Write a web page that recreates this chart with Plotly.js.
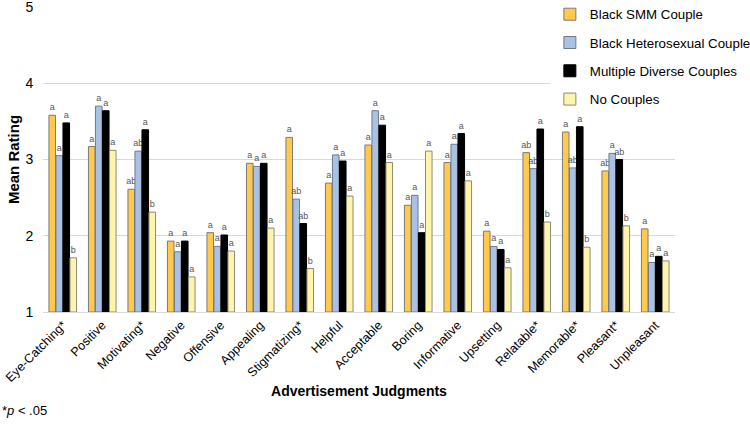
<!DOCTYPE html>
<html>
<head>
<meta charset="utf-8">
<script src="https://cdn.plot.ly/plotly-3.0.1.min.js"></script>
<style>html,body{margin:0;padding:0;background:#fff;}#chart{width:750px;height:425px;}</style>
</head>
<body>
<div id="chart"></div>
<script>
const categories = ["Eye-Catching*","Positive","Motivating*","Negative","Offensive","Appealing","Stigmatizing*","Helpful","Acceptable","Boring","Informative","Upsetting","Relatable*","Memorable*","Pleasant*","Unpleasant"];
const seriesNames = ["Black SMM Couple","Black Heterosexual Couple","Multiple Diverse Couples","No Couples"];
const smm   = [3.58,3.17,2.61,1.93,2.04,2.95,3.29,2.69,3.19,2.40,2.96,2.06,3.09,3.36,2.85,2.09];
const het   = [3.05,3.70,3.11,1.79,1.86,2.91,2.48,3.06,3.64,2.53,3.20,1.86,2.88,2.89,3.08,1.65];
const multi = [3.48,3.64,3.39,1.93,2.01,2.95,2.16,2.98,3.45,2.04,3.34,1.82,3.40,3.43,3.00,1.73];
const none  = [1.71,3.12,2.31,1.46,1.80,2.10,1.57,2.52,2.96,3.11,2.72,1.58,2.18,1.85,2.13,1.67];
const smmLetters   = ["a","a","ab","a","a","a","a","a","a","a","a","a","ab","a","ab","a"];
const hetLetters   = ["a","a","ab","a","a","a","ab","a","a","a","a","a","ab","ab","a","a"];
const multiLetters = ["a","a","a","a","a","a","ab","a","a","a","a","a","a","a","ab","a"];
const noneLetters  = ["b","a","b","a","a","a","b","a","a","a","a","a","b","b","b","a"];
const yTicks = [1,2,3,4,5];

const values = [smm, het, multi, none];
const letters = [smmLetters, hetLetters, multiLetters, noneLetters];
const fills = ["#FFC94D","#A9C1E2","#000000","#FFF4AE"];
const lines = ["#7a7a7a","#6f7a8a","#000000","#8a8a7a"];

const data = values.map((v,i) => ({
  type: "bar",
  name: seriesNames[i],
  legendgroup: "g"+i,
  x: categories,
  y: v.map(val => val - 1),
  base: 1,
  text: letters[i],
  textposition: "outside",
  constraintext: "none",
  cliponaxis: false,
  textfont: {family: "Liberation Sans, Arial, sans-serif", size: 9, color: "#555555"},
  marker: {color: fills[i], line: {color: lines[i], width: 1}},
  hoverinfo: "skip"
}));

const layout = {
  width: 750, height: 425,
  margin: {l: 43, r: 75, t: 7, b: 113, autoexpand: false},
  paper_bgcolor: "#ffffff",
  plot_bgcolor: "#ffffff",
  font: {family: "Liberation Sans, Arial, sans-serif", color: "#000000"},
  barmode: "group",
  bargap: 0.29,
  bargroupgap: 0.06,
  showlegend: true,
  legend: {
    x: 0.802, xanchor: "left", y: 1.026, yanchor: "top",
    bgcolor: "#ffffff", borderwidth: 0,
    font: {size: 13.3, color: "#000000"},
    tracegroupgap: 8,
    itemwidth: 30
  },
  xaxis: {
    type: "category",
    automargin: false,
    tickangle: -45,
    tickfont: {size: 12.5, color: "#000000"},
    showgrid: false,
    showline: true, linecolor: "#d9d9d9", linewidth: 1,
    ticks: "",
    title: {text: "<b>Advertisement Judgments</b>", font: {size: 14, color: "#000000"}, standoff: 2}
  },
  yaxis: {
    automargin: false,
    range: [1, 5],
    tickvals: yTicks,
    ticktext: yTicks.map(String),
    tickfont: {size: 14, color: "#000000"},
    ticklabeloverflow: "allow",
    showgrid: true, gridcolor: "#d9d9d9", gridwidth: 1,
    zeroline: false, showline: false,
    ticks: "outside", ticklen: 6, tickcolor: "rgba(0,0,0,0)",
    title: {text: "<b>Mean Rating</b>", font: {size: 15, color: "#000000"}, standoff: 2}
  },
  annotations: [{
    text: "*<i>p</i> < .05",
    xref: "paper", yref: "paper",
    x: -43/632, xanchor: "left",
    y: -98/305, yanchor: "middle",
    showarrow: false,
    font: {size: 13, color: "#000000"}
  }]
};

Plotly.newPlot("chart", data, layout, {staticPlot: true, displayModeBar: false});
</script>
</body>
</html>
